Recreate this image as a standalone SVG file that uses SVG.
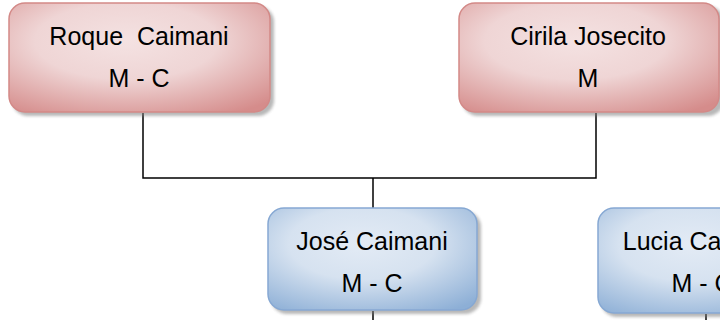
<svg xmlns="http://www.w3.org/2000/svg" width="720" height="320" viewBox="0 0 720 320">
  <defs>
    <radialGradient id="redFill" cx="0.45" cy="0.35" r="0.78">
      <stop offset="0" stop-color="#f4e2e2"/>
      <stop offset="0.45" stop-color="#efd5d5"/>
      <stop offset="1" stop-color="#d58c8b"/>
    </radialGradient>
    <radialGradient id="blueFill" cx="0.45" cy="0.35" r="0.78">
      <stop offset="0" stop-color="#e3ebf5"/>
      <stop offset="0.45" stop-color="#d6e2f0"/>
      <stop offset="1" stop-color="#8dafd6"/>
    </radialGradient>
    <filter id="soft" x="-10%" y="-10%" width="120%" height="130%">
      <feGaussianBlur stdDeviation="1.5"/>
    </filter>
  </defs>
  <style>
    .shadow { fill: #7f7f7f; opacity: 0.55; filter: url(#soft); }
    .red { fill: url(#redFill); stroke: #d38987; stroke-width: 1.5; }
    .blue { fill: url(#blueFill); stroke: #86a8d3; stroke-width: 1.5; }
    .lbl { font-family: "Liberation Sans", Arial, sans-serif; font-size: 25px; fill: #000; text-anchor: middle; }
    .link { fill: none; stroke: #000; stroke-width: 1.5; }
  </style>

  <rect width="720" height="320" fill="#ffffff"/>

  <!-- connectors -->
  <g id="connectors">
    <path class="link" d="M143 113 V178 H596 V113"/>
    <path class="link" d="M373 178 V208"/>
    <path class="link" d="M373 311 V320"/>
    <path class="link" d="M706 314 V320"/>
  </g>

  <g id="roque">
    <rect class="shadow" x="12" y="6" width="262" height="110" rx="16"/>
    <rect class="red" x="9" y="3" width="261" height="109" rx="16"/>
    <text class="lbl" x="139" y="45" xml:space="preserve">Roque  Caimani</text>
    <text class="lbl" x="139" y="87">M - C</text>
  </g>

  <g id="cirila">
    <rect class="shadow" x="462" y="6" width="262" height="110" rx="16"/>
    <rect class="red" x="459" y="3" width="260" height="109" rx="16"/>
    <text class="lbl" x="588" y="45">Cirila Josecito</text>
    <text class="lbl" x="588" y="87">M</text>
  </g>

  <g id="jose">
    <rect class="shadow" x="271" y="211" width="210" height="103" rx="16"/>
    <rect class="blue" x="268" y="208" width="209" height="102" rx="16"/>
    <text class="lbl" x="372" y="250">José Caimani</text>
    <text class="lbl" x="372" y="292">M - C</text>
  </g>

  <g id="lucia">
    <rect class="shadow" x="601" y="211" width="210" height="106" rx="16"/>
    <rect class="blue" x="598" y="208" width="209" height="105" rx="16"/>
    <text class="lbl" x="702" y="250">Lucia Caimani</text>
    <text class="lbl" x="702" y="292">M - C</text>
  </g>
</svg>
